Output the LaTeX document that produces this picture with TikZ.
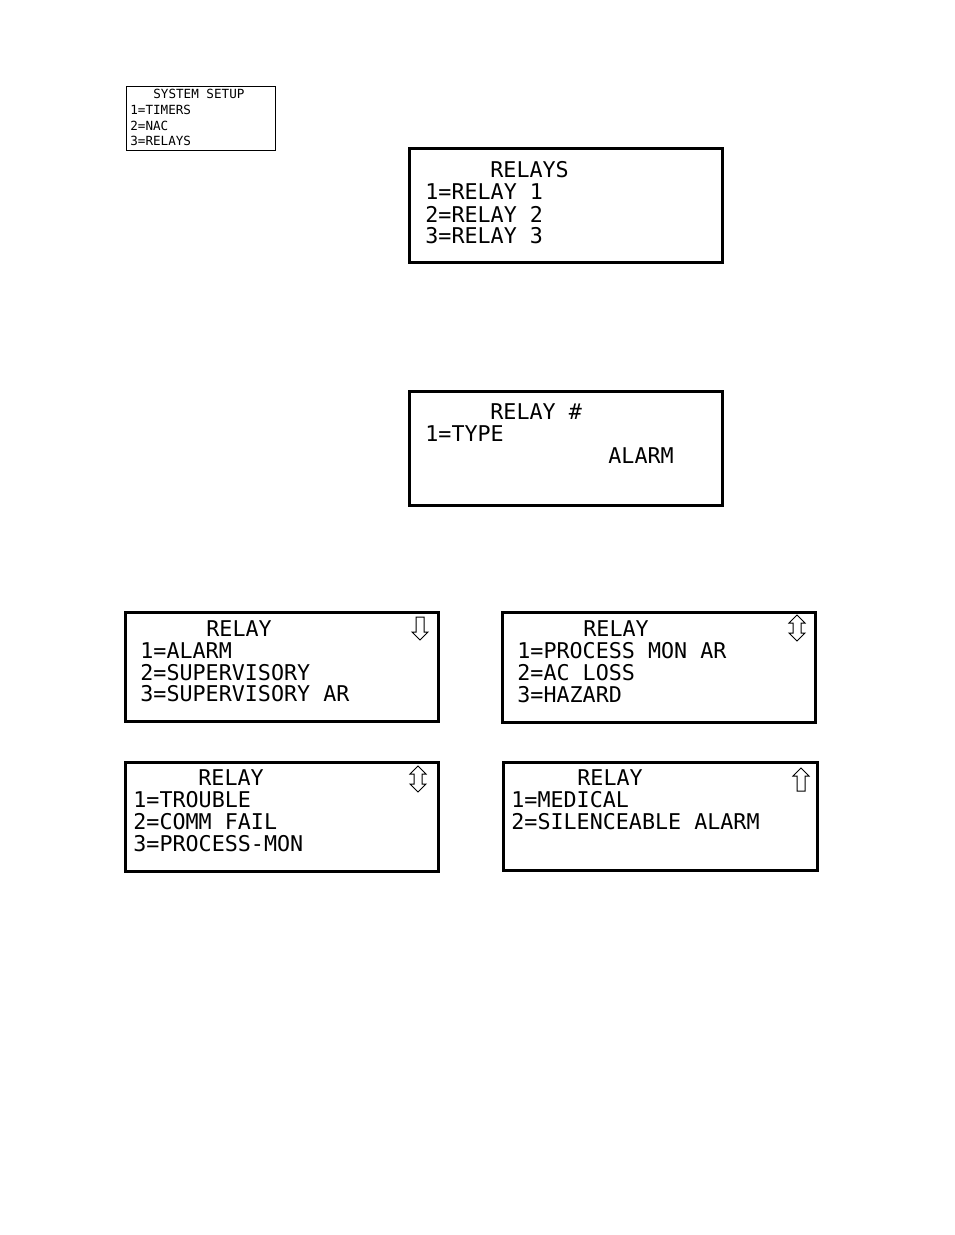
\documentclass[tikz,border=0pt]{standalone}
\usepackage{fontspec}
\newfontfamily\lcd{DejaVu Sans Mono}
\begin{document}
\begin{tikzpicture}[x=0.5pt,y=-0.5pt,
  big/.style={anchor=west,inner sep=0pt,font=\lcd\fontsize{10.85pt}{12pt}\selectfont},
  small/.style={anchor=west,inner sep=0pt,font=\lcd\fontsize{6.3pt}{7pt}\selectfont},
  lcdbox/.style={draw,line width=1.5pt},
  thinbox/.style={draw,line width=0.5pt},
  arr/.style={draw,line width=0.5pt}]
\useasboundingbox (0,0) rectangle (954,1235);
% small box
\draw[thinbox] (126,87) rectangle (275,151);
\node[small] (s0) at (153,94) {SYSTEM SETUP};
\node[small] (s1) at (130,110) {1=TIMERS};
\node[small] (s2) at (130,126) {2=NAC};
\node[small] (s3) at (130,141) {3=RELAYS};
% relays
\draw[lcdbox] (409,149) rectangle (722,263);
\node[big] (r0) at (490,170) {RELAYS};
\node[big] (r1) at (425,192) {1=RELAY 1};
\node[big] (r2) at (425,214) {2=RELAY 2};
\node[big] (r3) at (425,236) {3=RELAY 3};
% relay #
\draw[lcdbox] (409,391) rectangle (722,505);
\node[big] (n0) at (490,412) {RELAY \#};
\node[big] (n1) at (425,434) {1=TYPE};
\node[big] (n2) at (608,456) {ALARM};
% box 1
\draw[lcdbox] (125,612) rectangle (438,721);
\node[big] (a0) at (206,629) {RELAY};
\node[big] (a1) at (140,651) {1=ALARM};
\node[big] (a2) at (140,673) {2=SUPERVISORY};
\node[big] (a3) at (140,694) {3=SUPERVISORY AR};
\draw[arr] (416,617)--(424,617)--(424,632)--(428,632)--(420,640)--(412,632)--(416,632)--cycle;
% box 2
\draw[lcdbox] (502,612) rectangle (815,722);
\node[big] (b0) at (583,629) {RELAY};
\node[big] (b1) at (517,651) {1=PROCESS MON AR};
\node[big] (b2) at (517,673) {2=AC LOSS};
\node[big] (b3) at (517,695) {3=HAZARD};
\draw[arr] (797,615)--(805,623)--(801,623)--(801,633)--(805,633)--(797,641)--(789,633)--(793,633)--(793,623)--(789,623)--cycle;
% box 3
\draw[lcdbox] (125,762) rectangle (438,871);
\node[big] (c0) at (198,778) {RELAY};
\node[big] (c1) at (133,800) {1=TROUBLE};
\node[big] (c2) at (133,822) {2=COMM FAIL};
\node[big] (c3) at (133,844) {3=PROCESS-MON};
\draw[arr] (418,766)--(426,774)--(422,774)--(422,784)--(426,784)--(418,792)--(410,784)--(414,784)--(414,774)--(410,774)--cycle;
% box 4
\draw[lcdbox] (503,762) rectangle (817,870);
\node[big] (d0) at (577,778) {RELAY};
\node[big] (d1) at (511,800) {1=MEDICAL};
\node[big] (d2) at (511,822) {2=SILENCEABLE ALARM};
\draw[arr] (801,768)--(809,776)--(805,776)--(805,791)--(797,791)--(797,776)--(793,776)--cycle;
\end{tikzpicture}
\end{document}
